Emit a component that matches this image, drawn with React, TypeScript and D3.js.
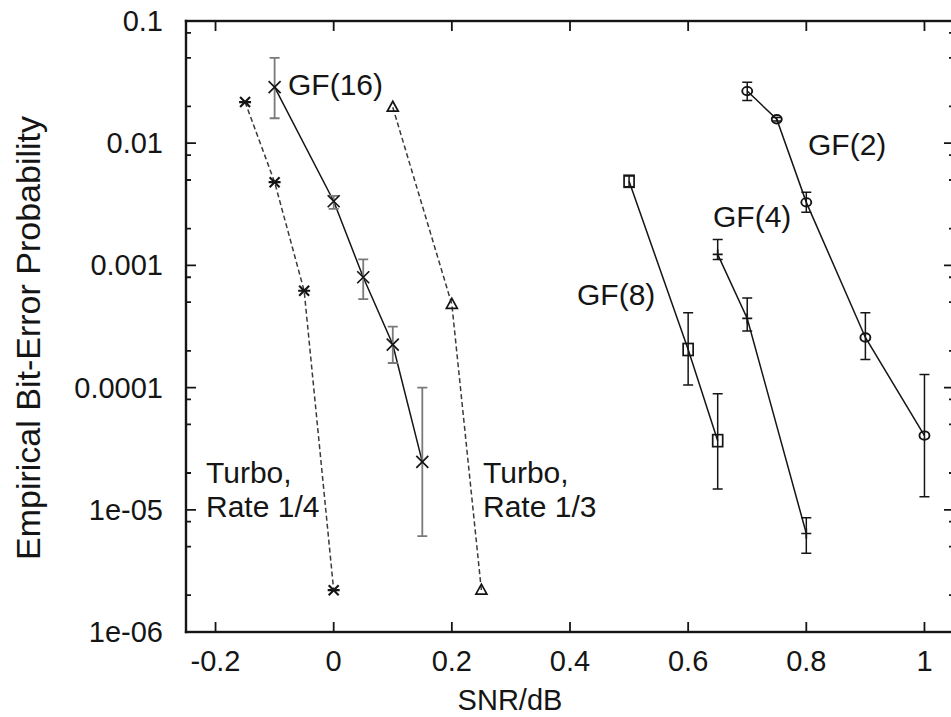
import React from "react";
import * as d3 from "d3";

const xTickValues = [-0.2, 0, 0.2, 0.4, 0.6, 0.8, 1];
const xTickLabels = ["-0.2", "0", "0.2", "0.4", "0.6", "0.8", "1"];
const yTickValues = [1e-6, 1e-5, 1e-4, 1e-3, 1e-2, 1e-1];
const yTickLabels = ["1e-06", "1e-05", "0.0001", "0.001", "0.01", "0.1"];
const yMinorFactors = [2, 5, 8];

const snrTurbo14 = [-0.15, -0.1, -0.05, 0];
const berTurbo14 = [0.0217, 0.0048, 0.00062, 2.2e-6];
const snrTurbo13 = [0.1, 0.2, 0.25];
const berTurbo13 = [0.0197, 0.00048, 2.2e-6];

const snrGF16 = [-0.1, 0, 0.05, 0.1, 0.15];
const berGF16 = [0.0288, 0.00335, 0.0008, 0.000225, 2.47e-5];
const lowGF16 = [0.016, 0.0029, 0.00053, 0.000159, 6.1e-6];
const highGF16 = [0.05, 0.0037, 0.00112, 0.000316, 1.0e-4];

const snrGF8 = [0.5, 0.6, 0.65];
const berGF8 = [0.00488, 0.000205, 3.68e-5];
const lowGF8 = [0.0044, 0.000105, 1.48e-5];
const highGF8 = [0.0054, 0.00041, 8.9e-5];

const snrGF4 = [0.65, 0.7, 0.8];
const berGF4 = [0.00123, 0.000368, 6.4e-6];
const lowGF4 = [0.00112, 0.00029, 4.4e-6];
const highGF4 = [0.00163, 0.00054, 8.6e-6];

const snrGF2 = [0.7, 0.75, 0.8, 0.9, 1.0];
const berGF2 = [0.0267, 0.0157, 0.00328, 0.000257, 4.05e-5];
const lowGF2 = [0.0224, 0.0152, 0.00272, 0.00017, 1.28e-5];
const highGF2 = [0.0316, 0.0162, 0.00397, 0.00041, 1.28e-4];

const W = 951;
const H = 717;
const PL = 186;
const PR = 954;
const PT = 21;
const PB = 632;

const xs = d3.scaleLinear().domain([-0.25, 1.05]).range([PL, PR]);
const ys = d3.scaleLog().domain([1e-6, 0.1]).range([PB, PT]);

const FONT = "'Liberation Sans', Arial, Helvetica, sans-serif";
const INK = "#151515";

type Pt = { s: number; b: number; lo?: number; hi?: number };

function zip(s: number[], b: number[], lo?: number[], hi?: number[]): Pt[] {
  return s.map((v, i) => ({ s: v, b: b[i], lo: lo ? lo[i] : undefined, hi: hi ? hi[i] : undefined }));
}

const lineGen = d3
  .line<Pt>()
  .x((d) => xs(d.s))
  .y((d) => ys(d.b));

const markerPaths: Record<string, string> = {
  x: "M-6,-6L6,6M-6,6L6,-6",
  star: "M-5,-5L5,5M-5,5L5,-5M-6,0L6,0",
  plus: "M-5,0L5,0M0,-5L0,5",
  tri: "M0,-6L5.5,4L-5.5,4Z",
};

function Marker({ kind, cx, cy }: { kind: string; cx: number; cy: number }) {
  if (kind === "square")
    return <rect x={cx - 5} y={cy - 6} width={10} height={12} fill="none" stroke={INK} strokeWidth={1.7} />;
  if (kind === "circle")
    return <ellipse cx={cx} cy={cy} rx={5} ry={4.2} fill="none" stroke={INK} strokeWidth={1.9} />;
  return (
    <path
      d={markerPaths[kind]}
      transform={`translate(${cx},${cy})`}
      fill="none"
      stroke={INK}
      strokeWidth={kind === "star" ? 2.1 : 1.7}
    />
  );
}

function Series({
  pts,
  kind,
  dashed,
  errColor,
  errWidth,
}: {
  pts: Pt[];
  kind: string;
  dashed?: boolean;
  errColor?: string;
  errWidth?: number;
}) {
  return (
    <g>
      <path
        d={lineGen(pts) || ""}
        fill="none"
        stroke={dashed ? "#3a3a3a" : INK}
        strokeWidth={1.5}
        strokeDasharray={dashed ? "5,3" : undefined}
      />
      {pts.map((p, i) =>
        p.lo !== undefined && p.hi !== undefined ? (
          <path
            key={"e" + i}
            d={`M${xs(p.s)},${ys(p.lo)}V${ys(p.hi)}M${xs(p.s) - 5},${ys(p.lo)}h10M${xs(p.s) - 5},${ys(p.hi)}h10`}
            fill="none"
            stroke={errColor || INK}
            strokeWidth={errWidth || 1.5}
          />
        ) : null
      )}
      {pts.map((p, i) => (
        <Marker key={"m" + i} kind={kind} cx={xs(p.s)} cy={ys(p.b)} />
      ))}
    </g>
  );
}

export default function App() {
  const minorY: number[] = [];
  for (let e = -6; e < -1; e++) {
    for (const f of yMinorFactors) minorY.push(f * Math.pow(10, e));
  }
  const tickPath =
    xTickValues.map((v) => `M${xs(v)},${PB}v-10M${xs(v)},${PT}v10`).join("") +
    yTickValues.map((v) => `M${PL},${ys(v)}h10M${PR},${ys(v)}h-10`).join("") +
    minorY.map((v) => `M${PL},${ys(v)}h5M${PR},${ys(v)}h-5`).join("");
  const fw = 2.4;
  return (
    <svg
      width={W}
      height={H}
      style={{ position: "absolute", left: 0, top: 0, background: "#fff" }}
      fontFamily={FONT}
    >
      <rect x={0} y={0} width={W} height={H} fill="#fff" />
      <g fill={INK}>
        <rect x={PL - fw / 2} y={PT - fw / 2} width={PR - PL + fw} height={fw} />
        <rect x={PL - fw / 2} y={PB - fw / 2} width={PR - PL + fw} height={fw} />
        <rect x={PL - fw / 2} y={PT - fw / 2} width={fw} height={PB - PT + fw} />
        <rect x={PR - fw / 2} y={PT - fw / 2} width={fw} height={PB - PT + fw} />
      </g>
      <path d={tickPath} fill="none" stroke={INK} strokeWidth={1.8} />
      <g fill={INK} fontSize={29}>
        {xTickValues.map((v, i) => (
          <text key={i} x={xs(v)} y={671} textAnchor="middle">
            {xTickLabels[i]}
          </text>
        ))}
        {yTickValues.map((v, i) => (
          <text key={i} x={163} y={ys(v) + 10} textAnchor="end">
            {yTickLabels[i]}
          </text>
        ))}
        <text x={510} y={710} textAnchor="middle">
          SNR/dB
        </text>
        <text transform="translate(40,338) rotate(-90)" textAnchor="middle" fontSize={34}>
          Empirical Bit-Error Probability
        </text>
      </g>
      <Series pts={zip(snrTurbo14, berTurbo14)} kind="star" dashed />
      <Series pts={zip(snrTurbo13, berTurbo13)} kind="tri" dashed />
      <Series pts={zip(snrGF16, berGF16, lowGF16, highGF16)} kind="x" errColor="#7a7a7a" errWidth={1.8} />
      <Series pts={zip(snrGF8, berGF8, lowGF8, highGF8)} kind="square" />
      <Series pts={zip(snrGF4, berGF4, lowGF4, highGF4)} kind="plus" />
      <Series pts={zip(snrGF2, berGF2, lowGF2, highGF2)} kind="circle" />
      <g fill={INK} fontSize={30}>
        <text x={288} y={95}>GF(16)</text>
        <text x={808} y={155}>GF(2)</text>
        <text x={713} y={227}>GF(4)</text>
        <text x={577} y={305}>GF(8)</text>
        <text x={206} y={483}>Turbo,</text>
        <text x={206} y={517}>Rate 1/4</text>
        <text x={483} y={483}>Turbo,</text>
        <text x={483} y={517}>Rate 1/3</text>
      </g>
    </svg>
  );
}
